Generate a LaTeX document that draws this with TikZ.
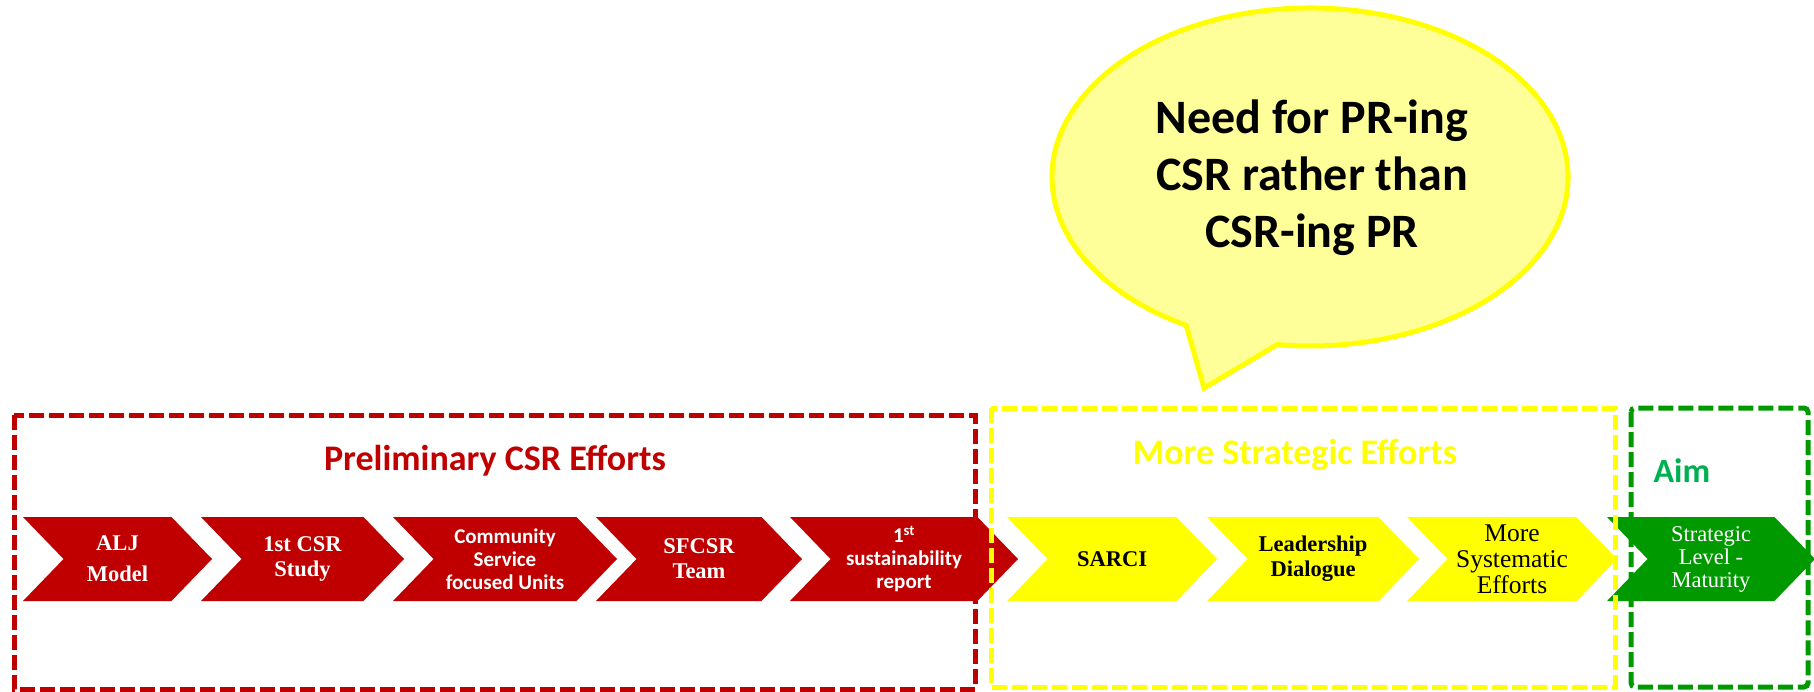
\documentclass[tikz,border=0pt]{standalone}
\usepackage{fontspec}
\setmainfont{Liberation Serif}
\newfontfamily\calibri{Carlito}
\usetikzlibrary{shapes.symbols,positioning}

\definecolor{csrred}{HTML}{C00000}
\definecolor{csryellow}{HTML}{FFFF00}
\definecolor{csrgreen}{HTML}{009A00}
\definecolor{aimgreen}{HTML}{00B050}
\definecolor{bubblefill}{HTML}{FFFF99}

\begin{document}
\begin{tikzpicture}[x=1pt,y=-1pt,
chevron/.style={signal, signal to=east, signal from=west, signal pointer angle=92, minimum height=84pt, inner sep=0pt, align=center},
redchevron/.style={chevron, fill=csrred, text=white},
yellowchevron/.style={chevron, fill=csryellow, text=black},
greenchevron/.style={chevron, fill=csrgreen, text=white},
serifbold/.style={font=\fontsize{22.5}{25}\selectfont\bfseries},
sansbold/.style={font=\calibri\fontsize{21}{23}\selectfont\bfseries},
effortbox/.style={line width=5pt, dash pattern=on 15pt off 5pt},
title/.style={font=\calibri\fontsize{36}{40}\selectfont\bfseries, anchor=base}
]
    \useasboundingbox (0,0) rectangle (1814,692);

    % speech bubble
    \coordinate (bubble) at (1310,177);
    \coordinate (tail) at (1204,388);
    \draw[csryellow, line width=5pt, fill=bubblefill] (bubble) ++(118.7:258 and 169)
        arc[start angle=118.7, end angle=457.3, x radius=258, y radius=169] -- (tail) -- cycle;
    \node[font=\calibri\fontsize{48}{57}\selectfont\bfseries, align=center] (need) at (1312,178) {Need for PR-ing\\CSR rather than\\CSR-ing PR};

    % preliminary efforts
    \node[redchevron, serifbold, minimum width=189pt] (nodeA) at (117.5,559) {ALJ\\[6pt]Model};
    \node[redchevron, serifbold, minimum width=203pt] (nodeB) at (302.5,559) {1st CSR\\Study};
    \node[redchevron, sansbold, minimum width=224pt] (nodeC) at (505,559) {Community\\Service\\focused Units};
    \node[redchevron, serifbold, minimum width=206pt] (nodeD) at (699,559) {SFCSR\\Team};
    \node[redchevron, sansbold, minimum width=228pt] (nodeE) at (904,559) {1\textsuperscript{st}\\sustainability\\report};

    % strategic efforts
    \node[yellowchevron, serifbold, minimum width=210pt] (nodeF) at (1112,559) {SARCI};
    \node[yellowchevron, serifbold, minimum width=212pt] (nodeG) at (1313,559) {Leadership\\Dialogue};
    \node[yellowchevron, font=\fontsize{25.5}{26}\selectfont, minimum width=210pt] (nodeH) at (1512,559) {More\\Systematic\\Efforts};

    % aim
    \node[greenchevron, font=\fontsize{22.5}{23}\selectfont, minimum width=208pt] (nodeI) at (1711,559) {Strategic\\Level -\\Maturity};

    % boxes round the phases
    \draw[effortbox, csrred] (14,415) rectangle (975,689);
    \draw[effortbox, csryellow] (991,408) rectangle (1615,687);
    \draw[effortbox, csrgreen, rounded corners=4pt] (1631,408) rectangle (1808,687);

    \node[title, text=csrred] (prelim) at (495,470) {Preliminary CSR Efforts};
    \node[title, text=csryellow] (strategic) at (1295,464) {More Strategic Efforts};
    \node[font=\calibri\fontsize{34}{38}\selectfont\bfseries, text=aimgreen, anchor=base west] (aim) at (1650,482) {Aim};
\end{tikzpicture}
\end{document}
